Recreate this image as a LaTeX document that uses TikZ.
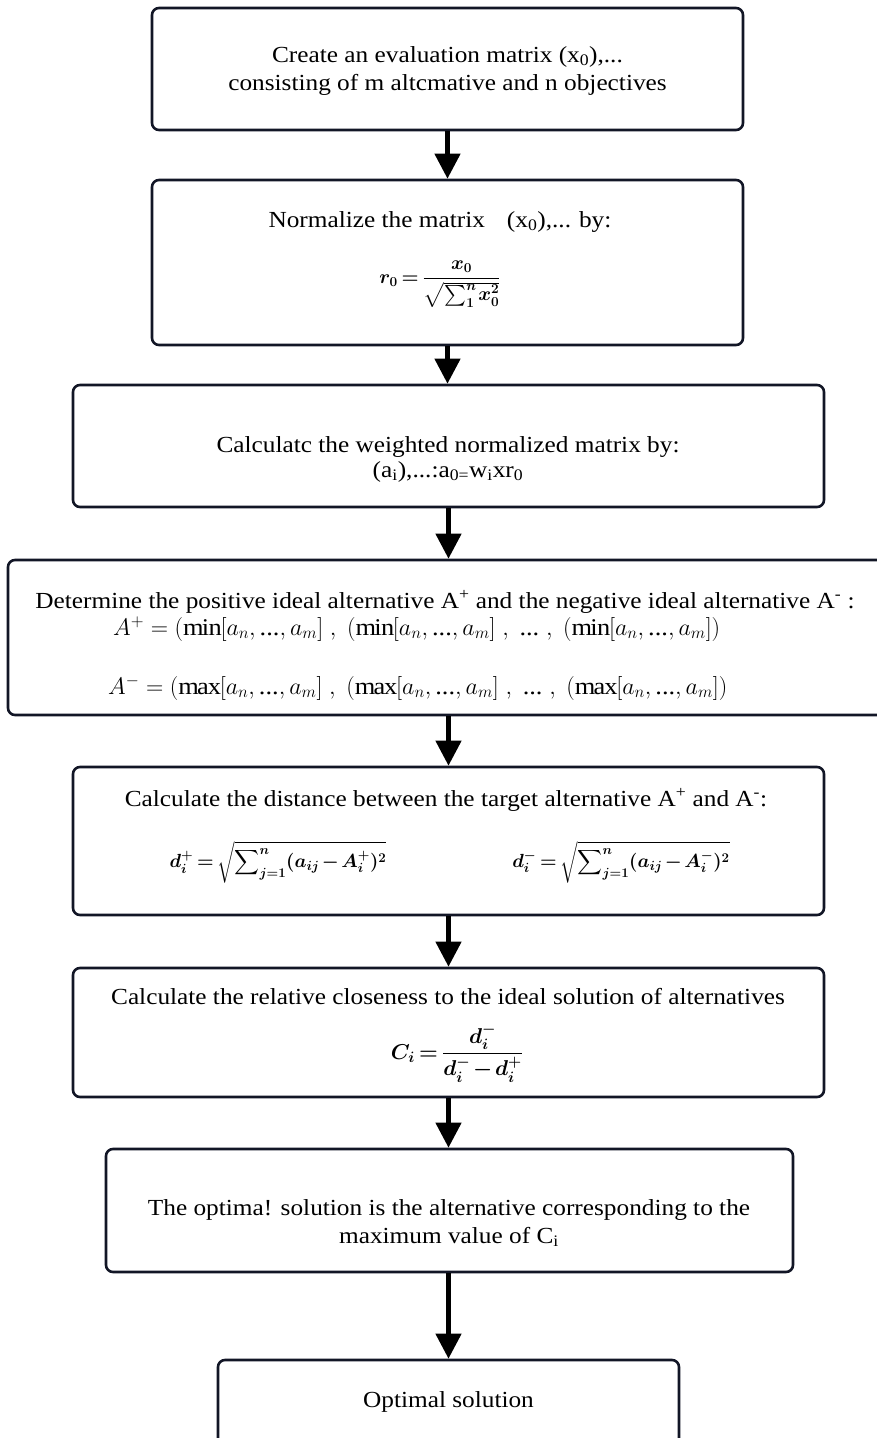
\RequirePackage{fix-cm}
\documentclass[tikz,border=0pt]{standalone}
\usepackage{amsmath}
\usepackage{fontspec}
\setmainfont{Liberation Serif}[FakeStretch=1.1]
\usetikzlibrary{arrows.meta}
\definecolor{boxcol}{RGB}{18,22,38}
\newcommand{\tdots}{\text{...}}
\newcommand{\tightmath}{\thickmuskip=3mu\relax\medmuskip=2mu\relax\thinmuskip=1.5mu\relax}
\begin{document}
\begin{tikzpicture}[x=1pt,y=-1pt,
  box/.style={draw=boxcol, line width=2.6pt, rounded corners=7pt, inner sep=0pt},
  flow/.style={line width=4.5pt, draw=black, -{Triangle[width=25pt,length=25pt]}},
  txt/.style={font=\fontsize{23}{28}\selectfont, inner sep=0pt, align=center},
  frm/.style={font=\fontsize{19}{24}\selectfont\boldmath, inner sep=0pt},
  frmr/.style={font=\fontsize{24}{28}\selectfont, inner sep=0pt}]
\useasboundingbox (0,0) rectangle (876,1438);
\fill[white] (0,0) rectangle (876,1438);
% boxes
\node[box, minimum width=591pt, minimum height=122pt] (b1) at (447.5,69) {};
\node[box, minimum width=591pt, minimum height=165pt] (b2) at (447.5,262.5) {};
\node[box, minimum width=751pt, minimum height=122pt] (b3) at (448.5,446) {};
\node[box, minimum width=882pt, minimum height=155pt] (b4) at (449,637.5) {};
\node[box, minimum width=751pt, minimum height=148pt] (b5) at (448.5,841) {};
\node[box, minimum width=751pt, minimum height=129pt] (b6) at (448.5,1032.5) {};
\node[box, minimum width=687pt, minimum height=123pt] (b7) at (449.5,1210.5) {};
\node[box, minimum width=461pt, minimum height=100pt] (b8) at (448.5,1410) {};
% texts
\node[txt] (t1) at (447.5,71) {Create an evaluation matrix (x\textsubscript{0}),...\\consisting of m altcmative and n objectives};
\node[txt] (t2) at (440,222) {Normalize the matrix\hspace{22pt}(x\textsubscript{0}),...\hspace{8pt}by:};
\node[frm, font=\fontsize{19.5}{24}\selectfont\boldmath] (f2) at (440,284) {$\tightmath\displaystyle r_0=\frac{x_0}{\sqrt{\sum_1^n x_0^2}}$};
\node[txt, font=\fontsize{23}{25}\selectfont] (t3) at (448,459) {Calculatc the weighted normalized matrix by:\\(a\textsubscript{i}),...:a\textsubscript{0=}w\textsubscript{i}xr\textsubscript{0}};
\node[txt] (t4) at (445,602) {Determine the positive ideal alternative A\textsuperscript{+} and the negative ideal alternative A\textsuperscript{-} :};
\node[frmr, anchor=west] (f4a) at (113,629) {$A^{+} = (\min[a_n,\tdots,a_m]\;,\; (\min[a_n,\tdots,a_m]\;,\; \tdots\;,\; (\min[a_n,\tdots,a_m])$};
\node[frmr, anchor=west] (f4b) at (108,688) {$A^{-} = (\max[a_n,\tdots,a_m]\;,\; (\max[a_n,\tdots,a_m]\;,\; \tdots\;,\; (\max[a_n,\tdots,a_m])$};
\node[txt] (t5) at (446,800) {Calculate the distance between the target alternative A\textsuperscript{+} and A\textsuperscript{-}:};
\node[frm] (f5a) at (278,862) {$\tightmath\displaystyle d_i^{+} = \sqrt{\sum\nolimits_{j=1}^{n}(a_{ij}-A_i^{+})^2}$};
\node[frm] (f5b) at (621,862) {$\tightmath\displaystyle d_i^{-} = \sqrt{\sum\nolimits_{j=1}^{n}(a_{ij}-A_i^{-})^2}$};
\node[txt] (t6) at (448,997) {Calculate the relative closeness to the ideal solution of alternatives};
\node[frm, font=\fontsize{21.5}{26}\selectfont\boldmath] (f6) at (457,1053) {$\tightmath\displaystyle C_i = \frac{d_i^{-}}{d_i^{-} - d_i^{+}}$};
\node[txt] (t7) at (449,1223) {The optima! solution is the alternative corresponding to the\\maximum value of C\textsubscript{i}};
\node[txt] (t8) at (448.5,1402) {Optimal solution};
% arrows
\draw[flow] (b1.south) -- (b1.south |- b2.north);
\draw[flow] (b2.south) -- (b2.south |- b3.north);
\draw[flow] (b3.south) -- (b3.south |- b4.north);
\draw[flow] (b4.south -| b3.south) -- (b3.south |- b5.north);
\draw[flow] (b5.south) -- (b5.south |- b6.north);
\draw[flow] (b6.south) -- (b6.south |- b7.north);
\draw[flow] (b7.south -| b6.south) -- (b6.south |- b8.north);
\end{tikzpicture}
\end{document}
